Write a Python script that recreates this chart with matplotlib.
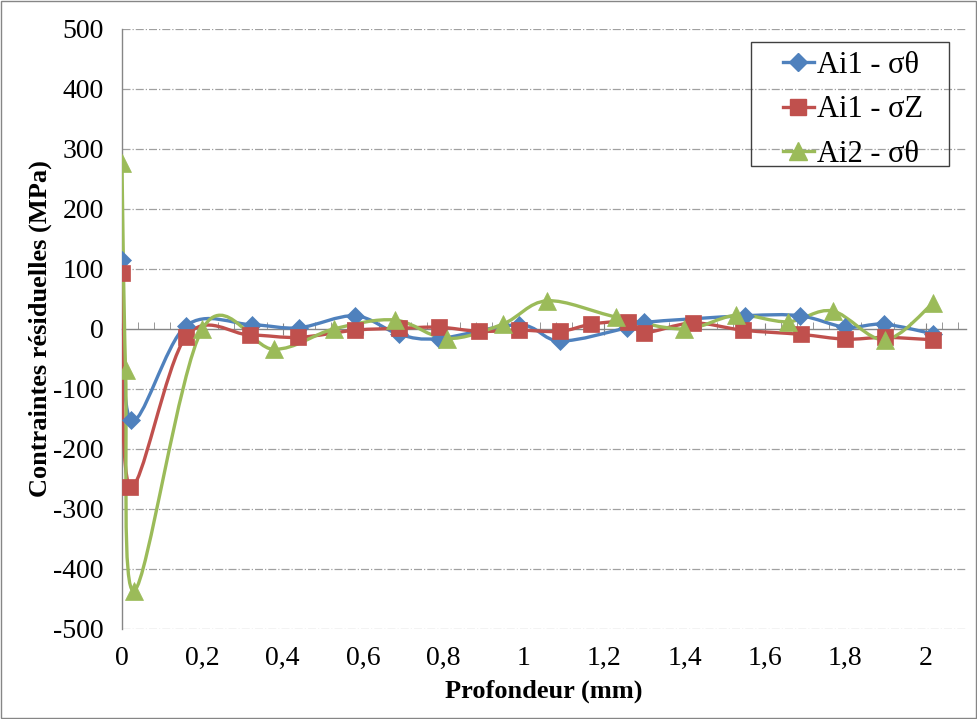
import numpy as np
import matplotlib.pyplot as plt
from matplotlib.path import Path
from matplotlib.patches import PathPatch, Rectangle
from matplotlib.lines import Line2D
from matplotlib.ticker import MultipleLocator, FixedLocator, FuncFormatter

plt.rcParams['font.family'] = ['Liberation Serif', 'DejaVu Serif']

# profondeur (mm) / contraintes (MPa)
ai1_theta_x = [0, 0.022, 0.159, 0.323, 0.44, 0.58, 0.69, 0.789, 0.988, 1.09,
               1.256, 1.30, 1.55, 1.687, 1.80, 1.896, 2.017]
ai1_theta_y = [115, -152, 5, 7, 2, 22, -9, -16, 7, -20,
               2, 11, 22, 22, 3, 8, -8]

ai1_z_x = [0, 0.02, 0.159, 0.318, 0.439, 0.58, 0.689, 0.789, 0.889, 0.988,
           1.09, 1.168, 1.26, 1.30, 1.42, 1.545, 1.689, 1.80, 1.898, 2.018]
ai1_z_y = [93, -263, -13, -10, -14, -2, 1, 3, -4, -2,
           -4, 8, 12, -6, 10, -2, -9, -17, -14, -18]

ai2_theta_x = [0, 0.009, 0.031, 0.2, 0.378, 0.527, 0.679, 0.808, 0.947, 1.058,
               1.229, 1.398, 1.529, 1.657, 1.768, 1.898, 2.018]
ai2_theta_y = [276, -69, -436, 0, -34, 0, 15, -16, 8, 47,
               20, 0, 23, 12, 30, -18, 43]

x_ticks = [0, 0.2, 0.4, 0.6, 0.8, 1, 1.2, 1.4, 1.6, 1.8, 2]

series = [
    ('Ai1 - σθ', ai1_theta_x, ai1_theta_y, '#4F81BD', 'D', 9),
    ('Ai1 - σZ', ai1_z_x, ai1_z_y, '#C0504D', 's', 12),
    ('Ai2 - σθ', ai2_theta_x, ai2_theta_y, '#9BBB59', '^', 12.5),
]


def smooth_path(x, y):
    # excel style smoothed line: catmull-rom turned into cubic bezier
    p = np.column_stack([x, y]).astype(float)
    n = len(p)
    verts = [p[0]]
    codes = [Path.MOVETO]
    for i in range(n - 1):
        p0 = p[max(i - 1, 0)]
        p1 = p[i]
        p2 = p[i + 1]
        p3 = p[min(i + 2, n - 1)]
        verts += [p1 + (p2 - p0) / 6, p2 - (p3 - p1) / 6, p2]
        codes += [Path.CURVE4] * 3
    return Path(verts, codes)


fig = plt.figure(figsize=(9.78, 7.19), dpi=100)
ax = fig.add_axes([0.1247, 0.1252, 0.8630, 0.8345])

ax.set_xlim(0, 2.1)
ax.set_ylim(-500, 500)

for yv in range(-500, 501, 100):
    if yv != 0:
        ax.axhline(yv, color='#A0A0A0', lw=0.9, ls='-.', zorder=0)

handles = []
for label, xs, ys, col, mk, ms in series:
    ax.add_patch(PathPatch(smooth_path(xs, ys), facecolor='none', edgecolor=col,
                           lw=2.4, zorder=3, capstyle='round'))
    ax.plot(xs, ys, ls='none', marker=mk, ms=ms, color=col, mec=col, mew=0.5, zorder=4)
    handles.append(Line2D([], [], color=col, lw=2.4, marker=mk, ms=ms, mec=col, label=label))

# axes lines
for s in ['top', 'right']:
    ax.spines[s].set_visible(False)
ax.spines['left'].set_color('#868686')
ax.spines['bottom'].set_color('#868686')
ax.spines['bottom'].set_position(('data', 0))
ax.spines['left'].set_linewidth(1.0)
ax.spines['bottom'].set_linewidth(1.0)

ax.xaxis.set_major_locator(FixedLocator(x_ticks))
ax.xaxis.set_minor_locator(MultipleLocator(0.04))
ax.tick_params(axis='x', which='major', direction='inout', length=8, color='#868686', labelbottom=False)
ax.tick_params(axis='x', which='minor', direction='in', length=5, color='#868686')

ax.yaxis.set_major_locator(MultipleLocator(100))
ax.yaxis.set_major_formatter(FuncFormatter(lambda v, p: '%d' % v))
ax.tick_params(axis='y', length=0, pad=13, labelsize=20)

# labels at the bottom of the plot
sec = ax.secondary_xaxis(0.0)
sec.xaxis.set_major_locator(FixedLocator(x_ticks))
sec.xaxis.set_major_formatter(FuncFormatter(lambda v, p: ('%g' % round(v, 2)).replace('.', ',')))
sec.spines['bottom'].set_visible(False)
sec.tick_params(axis='x', length=0, pad=12, labelsize=20)

ax.set_xlabel('Profondeur (mm)', fontsize=19, fontweight='bold')
ax.xaxis.set_label_coords(0.5, -0.085)
ax.set_ylabel('Contraintes résiduelles (MPa)', fontsize=19, fontweight='bold')
ax.yaxis.set_label_coords(-0.083, 0.5)

leg = fig.legend(handles=handles, loc='upper left', bbox_to_anchor=(783 / 978, 1 - 51 / 719),
                 fontsize=22, frameon=False, handlelength=1.0,
                 handletextpad=0.1, labelspacing=0.5, borderpad=0, borderaxespad=0)

# legend box drawn by hand
fig.patches.append(Rectangle((751 / 978, 1 - 166 / 719), 198 / 978, 124 / 719,
                             transform=fig.transFigure, fill=False,
                             edgecolor='#404040', lw=1.0))

fig.patches.append(Rectangle((0.001, 0.001), 0.997, 0.997, transform=fig.transFigure,
                             fill=False, edgecolor='#868686', lw=1.0))

plt.savefig('out.png', dpi=100)
